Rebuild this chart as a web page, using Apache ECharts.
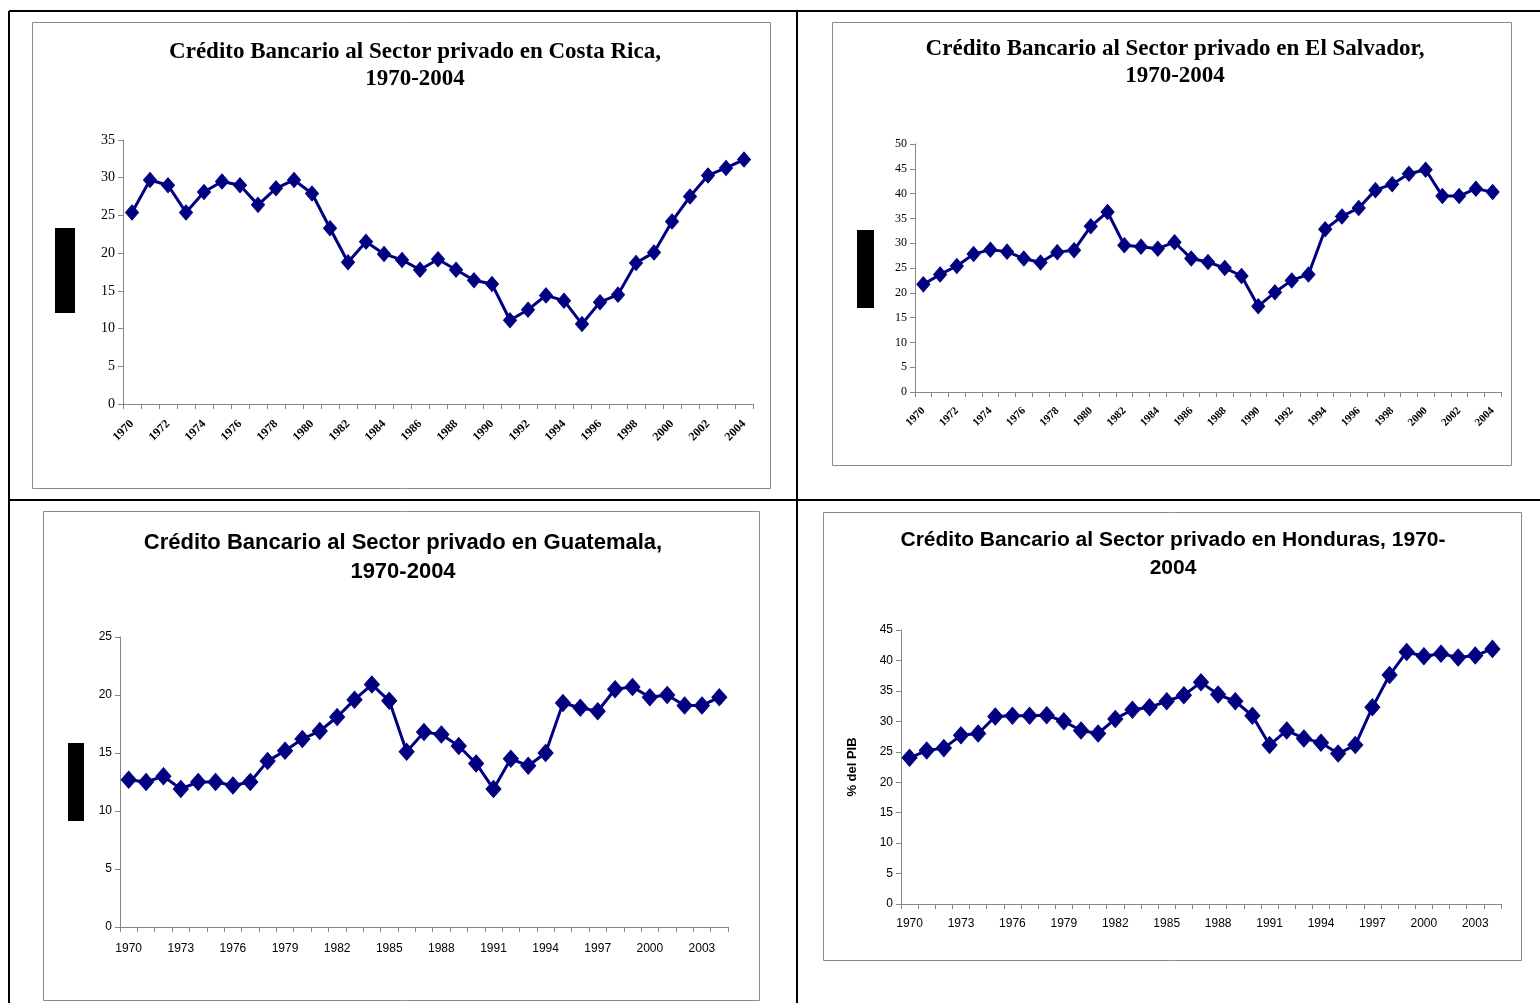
<!DOCTYPE html>
<html>
<head>
<meta charset="utf-8">
<script src="https://cdn.jsdelivr.net/npm/echarts@6/dist/echarts.min.js"></script>
<style>
  html, body { margin: 0; padding: 0; background: #fff; }
  #chart { width: 1540px; height: 1003px; }
</style>
</head>
<body>
<div id="chart"></div>
<script>
// Años 1970-2004
const years = [];
for (let y = 1970; y <= 2004; y++) years.push(String(y));

// Crédito bancario al sector privado (% del PIB)
const costaRica = [25.4, 29.7, 29.0, 25.4, 28.1, 29.5, 29.0, 26.4, 28.6, 29.7,
  27.9, 23.3, 18.8, 21.5, 19.9, 19.1, 17.8, 19.2, 17.8, 16.4,
  15.9, 11.1, 12.5, 14.4, 13.7, 10.6, 13.5, 14.5, 18.7, 20.1,
  24.2, 27.5, 30.3, 31.3, 32.4];
const elSalvador = [21.7, 23.7, 25.4, 27.8, 28.7, 28.3, 26.9, 26.1, 28.2, 28.6,
  33.4, 36.3, 29.6, 29.3, 28.9, 30.2, 26.9, 26.2, 25.0, 23.4,
  17.3, 20.1, 22.5, 23.7, 32.8, 35.4, 37.1, 40.7, 41.9, 44.0,
  44.8, 39.5, 39.5, 41.0, 40.3];
const guatemala = [12.7, 12.5, 13.0, 11.9, 12.5, 12.5, 12.2, 12.5, 14.3, 15.2,
  16.2, 16.9, 18.1, 19.6, 20.9, 19.5, 15.1, 16.8, 16.6, 15.6,
  14.1, 11.9, 14.5, 13.9, 15.0, 19.3, 18.9, 18.6, 20.5, 20.7,
  19.8, 20.0, 19.1, 19.1, 19.8];
const honduras = [24.0, 25.2, 25.6, 27.7, 28.0, 30.8, 30.9, 30.9, 31.0, 30.0,
  28.5, 28.0, 30.4, 31.9, 32.3, 33.3, 34.3, 36.4, 34.4, 33.3,
  30.9, 26.1, 28.5, 27.2, 26.5, 24.7, 26.1, 32.3, 37.6, 41.4,
  40.7, 41.1, 40.5, 40.8, 41.9];

const titles = [
  'Crédito Bancario al Sector privado en Costa Rica,\n1970-2004',
  'Crédito Bancario al Sector privado en El Salvador,\n1970-2004',
  'Crédito Bancario al Sector privado en Guatemala,\n1970-2004',
  'Crédito Bancario al Sector privado en Honduras, 1970-\n2004'
];
const yMax = [35, 50, 25, 45];
const seriesData = [costaRica, elSalvador, guatemala, honduras];

const SERIF = '"Liberation Serif", "Times New Roman", serif';
const SANS = '"Liberation Sans", Arial, sans-serif';
const NAVY = '#000080';
const AXIS_GRAY = '#868686';

const panels = [
  { font: SERIF, grid: { left: 123, top: 140, width: 630, height: 264 },
    title: { x: 415, top: 39, size: 23, lh: 27 }, rotated: true, labelSize: 12, labelMargin: 18, ySize: 14, sym: [13, 15] },
  { font: SERIF, grid: { left: 915, top: 144, width: 586, height: 248 },
    title: { x: 1175, top: 36, size: 23, lh: 27 }, rotated: true, labelSize: 11, labelMargin: 17, ySize: 12, sym: [13, 15] },
  { font: SANS, grid: { left: 120, top: 637, width: 608, height: 290 },
    title: { x: 403, top: 528, size: 22, lh: 29 }, rotated: false, labelSize: 12, labelMargin: 16, ySize: 12, sym: [15, 17] },
  { font: SANS, grid: { left: 901, top: 630, width: 600, height: 274 },
    title: { x: 1173, top: 526, size: 21, lh: 28 }, rotated: false, labelSize: 12, labelMargin: 14, ySize: 12, sym: [15, 17] }
];

const option = {
  backgroundColor: '#ffffff',
  animation: false,
  title: panels.map((p, i) => ({
    text: titles[i],
    left: p.title.x,
    top: p.title.top,
    textAlign: 'center',
    padding: 0,
    textStyle: {
      fontFamily: p.font, fontSize: p.title.size, fontWeight: 'bold',
      color: '#000', lineHeight: p.title.lh
    }
  })),
  grid: panels.map(p => Object.assign({ containLabel: false }, p.grid)),
  xAxis: panels.map((p, i) => ({
    type: 'category',
    gridIndex: i,
    data: years,
    boundaryGap: true,
    axisLine: { lineStyle: { color: AXIS_GRAY, width: 1 } },
    axisTick: { show: true, alignWithLabel: false, interval: 0, length: 5, lineStyle: { color: AXIS_GRAY } },
    axisLabel: p.rotated
      ? { interval: 1, rotate: 45, margin: p.labelMargin, fontFamily: p.font, fontSize: p.labelSize, fontWeight: 'bold', color: '#000' }
      : { interval: 2, rotate: 0, margin: p.labelMargin, fontFamily: p.font, fontSize: p.labelSize, color: '#000' },
    splitLine: { show: false }
  })),
  yAxis: panels.map((p, i) => ({
    type: 'value',
    gridIndex: i,
    min: 0,
    max: yMax[i],
    interval: 5,
    name: i === 3 ? '% del PIB' : '',
    nameLocation: 'middle',
    nameGap: 42,
    nameRotate: 90,
    nameTextStyle: { fontFamily: SANS, fontSize: 13, fontWeight: 'bold', color: '#000' },
    axisLine: { show: true, lineStyle: { color: AXIS_GRAY, width: 1 } },
    axisTick: { show: true, length: 5, lineStyle: { color: AXIS_GRAY } },
    axisLabel: { margin: 8, fontFamily: p.font, fontSize: p.ySize, color: '#000' },
    splitLine: { show: false }
  })),
  series: panels.map((p, i) => ({
    type: 'line',
    xAxisIndex: i,
    yAxisIndex: i,
    data: seriesData[i],
    symbol: 'diamond',
    symbolSize: p.sym,
    showAllSymbol: true,
    lineStyle: { color: NAVY, width: 3 },
    itemStyle: { color: NAVY, borderColor: NAVY },
    emphasis: { disabled: true }
  })),
  graphic: [
    // marco exterior y divisiones
    { type: 'line', shape: { x1: 9, y1: 11, x2: 1540, y2: 11 }, style: { stroke: '#000', lineWidth: 2 } },
    { type: 'line', shape: { x1: 9, y1: 11, x2: 9, y2: 1003 }, style: { stroke: '#000', lineWidth: 2 } },
    { type: 'line', shape: { x1: 797, y1: 11, x2: 797, y2: 1003 }, style: { stroke: '#000', lineWidth: 2 } },
    { type: 'line', shape: { x1: 9, y1: 500, x2: 1540, y2: 500 }, style: { stroke: '#000', lineWidth: 2 } },
    // recuadros de cada gráfico
    { type: 'rect', shape: { x: 32.5, y: 22.5, width: 738, height: 466 }, style: { fill: 'none', stroke: '#8a8a8a', lineWidth: 1 } },
    { type: 'rect', shape: { x: 832.5, y: 22.5, width: 679, height: 443 }, style: { fill: 'none', stroke: '#8a8a8a', lineWidth: 1 } },
    { type: 'rect', shape: { x: 43.5, y: 511.5, width: 716, height: 489 }, style: { fill: 'none', stroke: '#8a8a8a', lineWidth: 1 } },
    { type: 'rect', shape: { x: 823.5, y: 512.5, width: 698, height: 448 }, style: { fill: 'none', stroke: '#8a8a8a', lineWidth: 1 } },
    // bloques negros junto al eje vertical
    { type: 'rect', shape: { x: 55, y: 228, width: 20, height: 85 }, style: { fill: '#000' } },
    { type: 'rect', shape: { x: 857, y: 230, width: 17, height: 78 }, style: { fill: '#000' } },
    { type: 'rect', shape: { x: 68, y: 743, width: 16, height: 78 }, style: { fill: '#000' } }
  ]
};

const chart = echarts.init(document.getElementById('chart'), null, { renderer: 'canvas' });
chart.setOption(option);
</script>
</body>
</html>
